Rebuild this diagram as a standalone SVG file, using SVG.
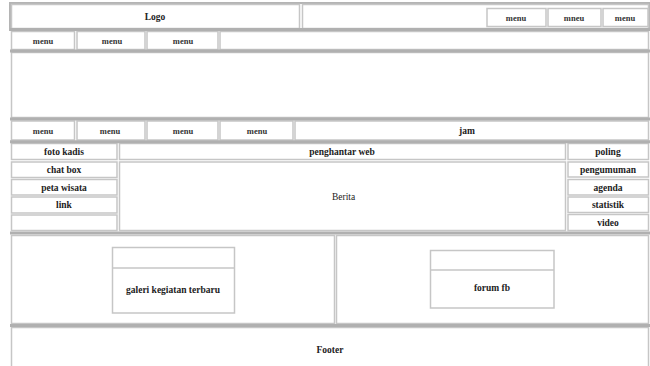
<svg xmlns="http://www.w3.org/2000/svg" width="650" height="366" viewBox="0 0 650 366">
<style>
.c{fill:#fff;stroke:#c6c6c6;stroke-width:1.5}
.t{fill:none;stroke:#b4b4b4;stroke-width:2}
.sep{stroke:#b0b0b0;stroke-width:3}
.l{font-family:"Liberation Serif",serif;font-weight:bold;font-size:9.5px;fill:#222;text-anchor:middle}
.s{font-family:"Liberation Serif",serif;font-weight:bold;font-size:8.5px;fill:#333;text-anchor:middle}
.n{font-family:"Liberation Serif",serif;font-size:9.5px;fill:#222}
</style>
<rect width="650" height="366" fill="#fff"/>
<g id="row-header">
<rect class="t" x="10" y="3" width="640" height="27"/>
<g id="logo"><rect class="c" x="11.5" y="4.5" width="288" height="24"/><text class="l" x="155" y="20">Logo</text></g>
<rect class="c" x="302.5" y="4.5" width="346" height="24"/>
<g id="top-menu1"><rect class="c" x="487" y="8.5" width="59" height="18"/><text class="s" x="516" y="20.5">menu</text></g>
<g id="top-menu2"><rect class="c" x="548" y="8.5" width="53" height="18"/><text class="s" x="574" y="20.5">mneu</text></g>
<g id="top-menu3"><rect class="c" x="603" y="8.5" width="45" height="18"/><text class="s" x="625" y="20.5">menu</text></g>
</g>
<g id="row-menu1">
<g id="m1a"><rect class="c" x="11.5" y="31.5" width="63" height="18"/><text class="s" x="43" y="43.5">menu</text></g>
<g id="m1b"><rect class="c" x="77" y="31.5" width="68" height="18"/><text class="s" x="112" y="43.5">menu</text></g>
<g id="m1c"><rect class="c" x="147" y="31.5" width="71" height="18"/><text class="s" x="183" y="43.5">menu</text></g>
<rect class="c" x="220" y="31.5" width="428.5" height="18"/>
</g>
<g id="banner"><rect class="c" x="11.5" y="52.5" width="637" height="65"/></g>
<g id="row-menu2">
<g id="m2a"><rect class="c" x="11.5" y="121" width="63" height="19"/><text class="s" x="43" y="133.5">menu</text></g>
<g id="m2b"><rect class="c" x="77" y="121" width="68" height="19"/><text class="s" x="110" y="133.5">menu</text></g>
<g id="m2c"><rect class="c" x="147" y="121" width="71" height="19"/><text class="s" x="183" y="133.5">menu</text></g>
<g id="m2d"><rect class="c" x="220" y="121" width="73" height="19"/><text class="s" x="257" y="133.5">menu</text></g>
<g id="jam"><rect class="c" x="295" y="121" width="353.5" height="19"/><text class="l" x="467" y="134">jam</text></g>
</g>
<g id="main">
<g id="foto-kadis"><rect class="c" x="11.5" y="143.5" width="105.5" height="16"/><text class="l" x="64" y="155">foto kadis</text></g>
<g id="chat-box"><rect class="c" x="11.5" y="162" width="105.5" height="15.5"/><text class="l" x="64" y="173">chat box</text></g>
<g id="peta-wisata"><rect class="c" x="11.5" y="179.5" width="105.5" height="15.5"/><text class="l" x="64" y="190.5">peta wisata</text></g>
<g id="link"><rect class="c" x="11.5" y="197" width="105.5" height="16"/><text class="l" x="64" y="208">link</text></g>
<rect class="c" x="11.5" y="215" width="105.5" height="15.5"/>
<g id="penghantar"><rect class="c" x="119.5" y="143.5" width="446" height="16"/><text class="l" x="342" y="155">penghantar web</text></g>
<g id="berita"><rect class="c" x="119.5" y="162" width="446" height="68.5"/><text class="n" x="332" y="200">Berita</text></g>
<g id="poling"><rect class="c" x="568" y="143.5" width="80.5" height="16"/><text class="l" x="608" y="155">poling</text></g>
<g id="pengumuman"><rect class="c" x="568" y="162" width="80.5" height="15"/><text class="l" x="608" y="172.5">pengumuman</text></g>
<g id="agenda"><rect class="c" x="568" y="179.5" width="80.5" height="15.5"/><text class="l" x="608" y="190.5">agenda</text></g>
<g id="statistik"><rect class="c" x="568" y="197" width="80.5" height="15.5"/><text class="l" x="608" y="208">statistik</text></g>
<g id="video"><rect class="c" x="568" y="214.5" width="80.5" height="16"/><text class="l" x="608" y="226">video</text></g>
</g>
<g id="bottom">
<rect class="c" x="11.5" y="235.5" width="323" height="88"/>
<rect class="c" x="336.5" y="235.5" width="312" height="88"/>
<g id="galeri"><rect class="c" x="112.5" y="247.5" width="122" height="65.5"/><line x1="112.5" y1="268" x2="234.5" y2="268" stroke="#c6c6c6" stroke-width="1.5"/><text class="l" x="173" y="293">galeri kegiatan terbaru</text></g>
<g id="forum-fb"><rect class="c" x="430.5" y="250.5" width="123.5" height="57.5"/><line x1="430.5" y1="270" x2="554" y2="270" stroke="#c6c6c6" stroke-width="1.5"/><text class="l" x="492" y="291">forum fb</text></g>
</g>
<g id="footer"><rect class="c" x="11.5" y="327.5" width="637" height="40"/><text class="l" x="330" y="353">Footer</text></g>
<g id="connectors">
<line class="sep" x1="10" y1="29.5" x2="650" y2="29.5"/>
<line class="sep" x1="10" y1="51" x2="650" y2="51"/>
<line class="sep" x1="10" y1="119" x2="650" y2="119"/>
<line class="sep" x1="10" y1="141.8" x2="650" y2="141.8"/>
<line class="sep" x1="10" y1="233" x2="650" y2="233"/>
<line class="sep" x1="10" y1="325.5" x2="650" y2="325.5"/>
</g>
</svg>
